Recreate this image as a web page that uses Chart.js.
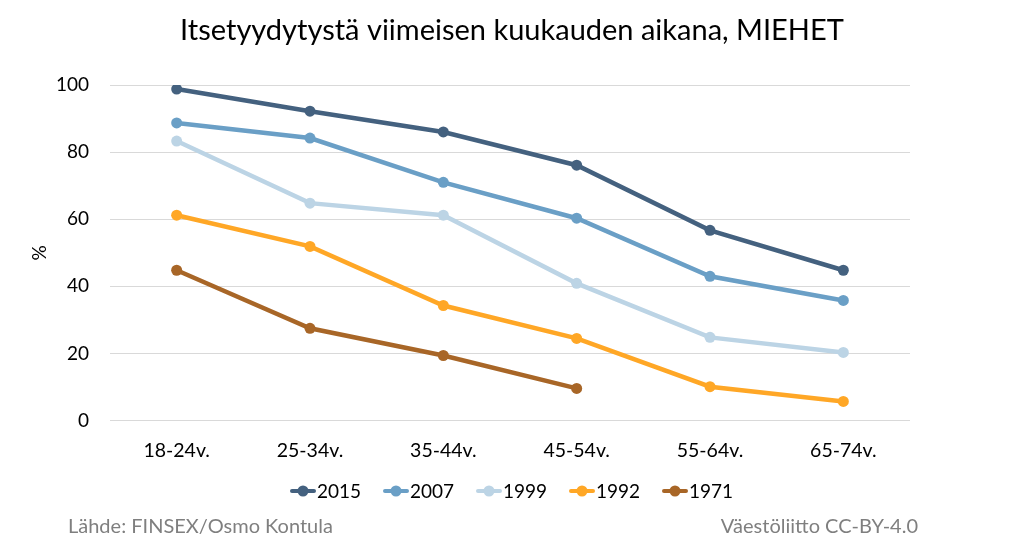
<!DOCTYPE html>
<html>
<head>
<meta charset="utf-8">
<script src="https://cdn.jsdelivr.net/npm/chart.js@4"></script>
<style>
  html, body { margin: 0; padding: 0; background: #fff; }
  #chart { display: block; }
</style>
</head>
<body>
<canvas id="chart" width="1024" height="552"></canvas>
<script>
// Chart data
const ageGroups = ['18-24v.', '25-34v.', '35-44v.', '45-54v.', '55-64v.', '65-74v.'];
const years = ['2015', '2007', '1999', '1992', '1971'];
const values2015 = [98.8, 92.2, 86.0, 76.1, 56.7, 44.8];
const values2007 = [88.7, 84.2, 71.0, 60.3, 43.0, 35.8];
const values1999 = [83.3, 64.8, 61.2, 40.9, 24.8, 20.3];
const values1992 = [61.2, 51.9, 34.3, 24.5, 10.1, 5.7];
const values1971 = [44.8, 27.5, 19.4, 9.6, null, null];
const yTicks = [0, 20, 40, 60, 80, 100];

const seriesValues = [values2015, values2007, values1999, values1992, values1971];
const colors = ['#44617f', '#6a9fc6', '#bcd4e5', '#ffa726', '#a86627'];
const FONT = 'Lato, "Open Sans", sans-serif';

// Title, legend and footer are drawn here so they can be centred on the whole canvas
const decorPlugin = {
    id: 'decor',
    afterDraw(chart) {
        const c = chart.ctx;
        c.save();

        // title
        c.fillStyle = '#000';
        c.font = '29px ' + FONT;
        c.textAlign = 'center';
        c.textBaseline = 'middle';
        c.fillText('Itsetyydytystä viimeisen kuukauden aikana, MIEHET', 512, 31);

        // legend: line + dot marker, then the label
        c.font = '19px ' + FONT;
        c.textAlign = 'left';
        const legendY = 491;
        let x = 290;
        chart.data.datasets.forEach((ds, i) => {
            c.strokeStyle = colors[i];
            c.lineWidth = 4;
            c.lineCap = 'round';
            c.beginPath();
            c.moveTo(x + 2, legendY);
            c.lineTo(x + 24, legendY);
            c.stroke();
            c.fillStyle = colors[i];
            c.beginPath();
            c.arc(x + 13, legendY, 5.5, 0, Math.PI * 2);
            c.fill();
            c.fillStyle = '#000';
            c.fillText(ds.label, x + 27, legendY + 1);
            x += 93;
        });

        // footer
        c.fillStyle = '#7f7f7f';
        c.font = '20px ' + FONT;
        c.textAlign = 'left';
        c.fillText('Lähde: FINSEX/Osmo Kontula', 68, 527);
        c.textAlign = 'right';
        c.fillText('Väestöliitto CC-BY-4.0', 918, 527);
        c.restore();
    }
};

const datasets = years.map((year, i) => ({
    label: year,
    data: seriesValues[i],
    borderColor: colors[i],
    backgroundColor: colors[i],
    borderWidth: 4.5,
    pointRadius: 5.5,
    pointHoverRadius: 5.5,
    pointBackgroundColor: colors[i],
    pointBorderWidth: 0,
    tension: 0,
    spanGaps: false,
    fill: false
}));

const ctx = document.getElementById('chart').getContext('2d');
new Chart(ctx, {
    type: 'line',
    data: { labels: ageGroups, datasets: datasets },
    plugins: [decorPlugin],
    options: {
        responsive: false,
        animation: false,
        layout: { padding: { left: 0, right: 114, top: 85, bottom: 80 } },
        plugins: {
            title: { display: false },
            legend: { display: false },
            tooltip: { enabled: false }
        },
        scales: {
            x: {
                offset: true,
                grid: { display: false },
                border: { display: false },
                ticks: {
                    color: '#000',
                    font: { family: FONT, size: 19.5 },
                    padding: 10,
                    maxRotation: 0
                }
            },
            y: {
                min: 0,
                max: 100,
                afterBuildTicks(axis) {
                    axis.ticks = yTicks.map(v => ({ value: v }));
                },
                afterFit(axis) {
                    axis.width = 110;
                },
                grid: { color: '#d9d9d9', lineWidth: 1, drawTicks: false },
                border: { display: false },
                ticks: {
                    color: '#000',
                    font: { family: FONT, size: 19 },
                    padding: 21
                },
                title: {
                    display: true,
                    text: '%',
                    color: '#000',
                    font: { family: FONT, size: 19 },
                    padding: { top: 28, bottom: 0 }
                }
            }
        }
    }
});
</script>
</body>
</html>
